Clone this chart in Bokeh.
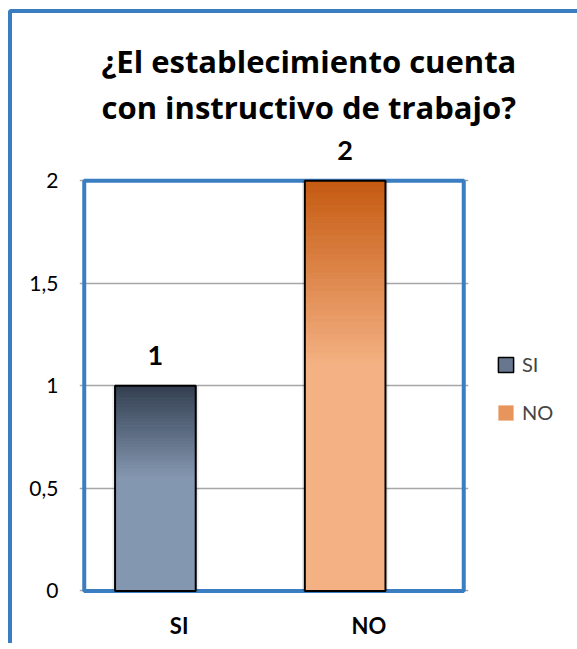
import numpy as np
from bokeh.plotting import figure
from bokeh.models import (FactorRange, Range1d, ColumnDataSource, FixedTicker,
                          LabelSet, Legend, LegendItem, Title)
from bokeh.transform import dodge
from bokeh.core.properties import value
from bokeh.embed import file_html
from bokeh.resources import INLINE

# ---- data ----
title_lines = ["¿El establecimiento cuenta", "con instructivo de trabajo?"]
categories = ["SI", "NO"]
values = [1, 2]
series_names = ["SI", "NO"]
y_ticks = [0, 0.5, 1, 1.5, 2]
y_tick_labels = ["0", "0,5", "1", "1,5", "2"]

# ---- styles ----
top_colors = ["#333F50", "#C55A11"]
bottom_colors = ["#8497B0", "#F4B183"]
legend_colors = ["#66778F", "#E8955C"]
BLUE = "#3B7DC1"
FONT = "Lato"
TITLE_FONT = "Open Sans"
OFFSET = -0.125
BAR_W = 0.425


def hex2rgb(h):
    h = h.lstrip("#")
    return np.array([int(h[i:i + 2], 16) for i in (0, 2, 4)], dtype=float)


def lerp(c1, c2, t):
    c = hex2rgb(c1) * (1 - t) + hex2rgb(c2) * t
    return "#%02x%02x%02x" % tuple(int(round(v)) for v in c)


# gradient slices derived from bar values
rows = {"cat": [], "top": [], "bottom": [], "color": []}
split, n = 0.45, 30
for cat, v, c1, c2 in zip(categories, values, top_colors, bottom_colors):
    for i in range(n):
        f0, f1 = i / n * split, (i + 1) / n * split
        rows["cat"].append(cat)
        rows["top"].append(v * (1 - f0))
        rows["bottom"].append(v * (1 - f1))
        rows["color"].append(lerp(c1, c2, (i + 0.5) / n))
    rows["cat"].append(cat)
    rows["top"].append(v * (1 - split))
    rows["bottom"].append(0)
    rows["color"].append(c2)
grad_src = ColumnDataSource(rows)
bar_src = ColumnDataSource(dict(cat=categories, value=values,
                                label=[str(v) for v in values]))
area_src = ColumnDataSource(dict(left=[categories[0]], right=[categories[-1]],
                                 bottom=[y_ticks[0]], top=[y_ticks[-1]]))

p = figure(x_range=FactorRange(*categories, range_padding=0.025,
                               range_padding_units="absolute"),
           y_range=Range1d(-0.0125, 2.25),
           frame_width=389, frame_height=464,
           min_border_left=67, min_border_right=100,
           min_border_top=116, min_border_bottom=50,
           output_backend="svg", toolbar_location=None,
           background_fill_color="white", border_fill_color="white")
p.styles = {"margin-left": "8px", "margin-top": "9px",
            "border-left": f"4px solid {BLUE}", "border-top": f"4px solid {BLUE}",
            "border-top-left-radius": "4px"}
p.outline_line_color = None

# plot-area border
p.quad(left=dodge("left", -0.5, range=p.x_range), right=dodge("right", 0.5, range=p.x_range),
       bottom="bottom", top="top", source=area_src,
       fill_color=None, line_color=BLUE, line_width=4)

xs = dodge("cat", OFFSET, range=p.x_range)

# soft shadow
p.vbar(x=xs, top="value", width=BAR_W + 0.03, source=bar_src,
       fill_color="black", fill_alpha=0.07, line_color=None)
# gradient body
p.vbar(x=xs, top="top", bottom="bottom", width=BAR_W, source=grad_src,
       fill_color="color", line_color="color", line_width=1)
# outline
p.vbar(x=xs, top="value", width=BAR_W, source=bar_src,
       fill_color=None, line_color="black", line_width=2)

# data labels
p.add_layout(LabelSet(x=xs, y="value", text="label", source=bar_src,
                      y_offset=21, text_align="center", text_baseline="alphabetic",
                      text_font=value(FONT), text_font_style="bold",
                      text_font_size="27px", text_color="black"))

# title (second line nearest the plot)
for line, standoff in zip(reversed(title_lines), [4, 0]):
    p.add_layout(Title(text=line, align="left", offset=22, standoff=standoff,
                       text_font=TITLE_FONT, text_font_style="bold",
                       text_font_size="31px", text_color="black"), "above")

# axes
p.yaxis.ticker = FixedTicker(ticks=y_ticks)
p.yaxis.major_label_overrides = dict(zip(y_ticks, y_tick_labels))
for ax in (p.xaxis, p.yaxis):
    ax.axis_line_color = None
    ax.major_tick_line_color = None
    ax.minor_tick_line_color = None
    ax.major_tick_out = 0
    ax.major_label_text_font = FONT
    ax.major_label_text_color = "black"
p.yaxis.major_label_text_font_size = "21px"
p.yaxis.major_label_standoff = 21
p.xaxis.major_label_text_font_size = "22px"
p.xaxis.major_label_text_font_style = "bold"
p.xaxis.major_label_standoff = 18

p.xgrid.grid_line_color = None
p.ygrid.grid_line_color = "#A6A6A6"
p.ygrid.grid_line_width = 1.5

# legend proxies (no drawable data; used only for the legend swatches)
nan = float("nan")
r_si = p.vbar(x=[categories[0]], top=[nan], bottom=[nan], width=0.1,
              fill_color=legend_colors[0], line_color="black", line_width=1.5)
r_no = p.vbar(x=[categories[1]], top=[nan], bottom=[nan], width=0.1,
              fill_color=legend_colors[1], line_color=None)
legend = Legend(items=[LegendItem(label=series_names[0], renderers=[r_si]),
                       LegendItem(label=series_names[1], renderers=[r_no])],
                location=(28, 169), glyph_width=19, glyph_height=19,
                label_text_font=FONT, label_text_font_size="20px",
                label_standoff=7, spacing=24, padding=0, margin=0,
                border_line_color=None, background_fill_alpha=0)
p.add_layout(legend, "right")

open("out.html", "w").write(file_html(p, INLINE))
